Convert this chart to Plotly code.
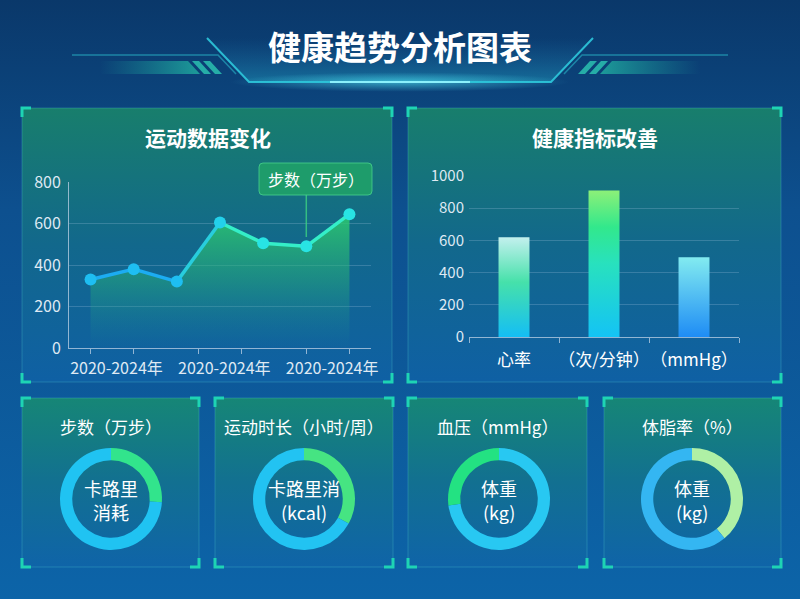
import math
import plotly.graph_objects as go

W, H = 800, 599
FONT = "Noto Sans CJK SC, Noto Sans, sans-serif"

# ---------------- data ----------------
main_title = "健康趋势分析图表"

line_title = "运动数据变化"
line_series_name = "步数（万步）"
line_values = [330, 380, 320, 605, 505, 490, 645]
line_tick_labels = ["2020-2024年", "2020-2024年", "2020-2024年"]
line_tick_pos = [0.6, 3.1, 5.6]
line_tick_marks = [0, 1, 2.5, 3.5, 5, 6]
line_highlight_index = 5
line_y_ticks = [0, 200, 400, 600, 800]

bar_title = "健康指标改善"
bar_categories = ["心率", "（次/分钟）", "（mmHg）"]
bar_values = [620, 910, 495]
bar_y_ticks = [0, 200, 400, 600, 800, 1000]

donut_titles = ["步数（万步）", "运动时长（小时/周）", "血压（mmHg）", "体脂率（%）"]
donut_center_line1 = ["卡路里", "卡路里消", "体重", "体重"]
donut_center_line2 = ["消耗", "(kcal)", "(kg)", "(kg)"]
donut_percents = [26, 33, 27, 39]

# ---------------- style ----------------
bar_gradients = [
    [[0, "rgb(20,190,245)"], [0.55, "rgb(70,225,170)"], [1, "rgb(195,240,238)"]],
    [[0, "rgb(20,195,245)"], [0.5, "rgb(40,225,190)"], [0.75, "rgb(50,232,140)"], [1, "rgb(140,240,120)"]],
    [[0, "rgb(30,140,245)"], [1, "rgb(130,235,240)"]],
]
donut_arc_colors = ["rgb(50,228,140)", "rgb(70,228,130)", "rgb(35,226,130)", "rgb(175,240,165)"]
donut_base_colors = ["rgb(32,195,242)", "rgb(34,195,242)", "rgb(40,200,242)", "rgb(52,182,242)"]
donut_arc_left = [False, False, True, False]   # arc runs from 12 o'clock to the left

top_panels = [(22, 108, 392, 382), (408, 108, 781, 382)]
bottom_panels = [(22, 398, 199, 567), (215, 398, 393, 567), (408, 398, 587, 567), (604, 398, 781, 567)]
donut_centers = [(111, 499), (304, 499), (499, 499), (692, 499)]
donut_r = 51


def Y(p):
    return H - p


def fx(x):
    return x / W


def fy(p):
    return 1 - p / H


fig = go.Figure()

# page background
fig.add_trace(go.Scatter(
    x=[0, W, W, 0, 0], y=[0, 0, H, H, 0], mode="lines", fill="toself",
    line=dict(width=0),
    fillgradient=dict(type="vertical", start=0, stop=H,
                      colorscale=[[0, "rgb(12,100,168)"], [0.65, "rgb(13,80,143)"], [1, "rgb(10,56,106)"]]),
    hoverinfo="skip", showlegend=False, xaxis="x", yaxis="y"))

# title decoration: trapezoid glow
fig.add_trace(go.Scatter(
    x=[207, 593, 551, 249, 207], y=[Y(38), Y(38), Y(82), Y(82), Y(38)], mode="lines", fill="toself",
    line=dict(width=0),
    fillgradient=dict(type="vertical", start=Y(82), stop=Y(38),
                      colorscale=[[0, "rgba(40,190,215,0.35)"], [1, "rgba(40,150,200,0.0)"]]),
    hoverinfo="skip", showlegend=False, xaxis="x", yaxis="y"))

# glow under title
ex = [400 + 170 * math.cos(t * math.pi / 30) for t in range(61)]
ey = [Y(82) + 10 * math.sin(t * math.pi / 30) for t in range(61)]
fig.add_trace(go.Scatter(
    x=ex, y=ey, mode="lines", fill="toself", line=dict(width=0),
    fillgradient=dict(type="radial", colorscale=[[0, "rgba(80,230,245,0.6)"], [1, "rgba(80,230,245,0)"]]),
    hoverinfo="skip", showlegend=False, xaxis="x", yaxis="y"))

# side bars of title decoration
for side in (-1, 1):
    def mx(x):
        return x if side == -1 else W - x
    xs = [mx(v) for v in [100, 188, 200, 100, 100]]
    ys = [Y(61), Y(61), Y(74), Y(74), Y(61)]
    cs = [[0, "rgba(30,170,160,0.0)"], [1, "rgba(35,185,165,0.75)"]]
    if side == 1:
        cs = [[0, "rgba(35,185,165,0.75)"], [1, "rgba(30,170,160,0.0)"]]
    fig.add_trace(go.Scatter(
        x=xs, y=ys, mode="lines", fill="toself", line=dict(width=0),
        fillgradient=dict(type="horizontal", start=min(xs), stop=max(xs), colorscale=cs),
        hoverinfo="skip", showlegend=False, xaxis="x", yaxis="y"))
    for a in (192, 203):
        px_ = [mx(v) for v in [a, a + 7, a + 19, a + 12, a]]
        fig.add_trace(go.Scatter(
            x=px_, y=ys, mode="lines", fill="toself", line=dict(width=0),
            fillcolor="rgba(45,200,180,0.8)", hoverinfo="skip", showlegend=False,
            xaxis="x", yaxis="y"))


# panels
def add_panel(p, top, mid, bot):
    x0, y0, x1, y1 = p
    fig.add_trace(go.Scatter(
        x=[x0, x1, x1, x0, x0], y=[Y(y0), Y(y0), Y(y1), Y(y1), Y(y0)], mode="lines", fill="toself",
        line=dict(width=1, color="rgba(80,200,205,0.30)"),
        fillgradient=dict(type="vertical", start=Y(y1), stop=Y(y0),
                          colorscale=[[0, bot], [0.5, mid], [1, top]]),
        hoverinfo="skip", showlegend=False, xaxis="x", yaxis="y"))


for p in top_panels:
    add_panel(p, "rgb(24,126,108)", "rgb(18,104,140)", "rgb(15,96,164)")
for p in bottom_panels:
    add_panel(p, "rgb(22,134,118)", "rgb(18,112,145)", "rgb(15,100,168)")

# ---------------- line chart ----------------
n = len(line_values)
xs = list(range(n))
fig.add_trace(go.Scatter(
    x=xs, y=line_values, mode="lines", fill="tozeroy", line=dict(width=0),
    fillgradient=dict(type="vertical", start=0, stop=max(line_values),
                      colorscale=[[0, "rgba(30,150,150,0.0)"], [0.5, "rgba(40,180,120,0.45)"],
                                  [1, "rgba(45,205,110,0.85)"]]),
    hoverinfo="skip", showlegend=False, xaxis="x2", yaxis="y2"))


def lerp_col(t, a, b):
    return "rgb(%d,%d,%d)" % tuple(round(a[k] + (b[k] - a[k]) * t) for k in range(3))


c_start, c_end = (28, 172, 242), (52, 238, 200)
for i in range(n - 1):
    t = min(1.0, max(0.0, ((i + 0.5) - 1.5) / 2.0))
    fig.add_trace(go.Scatter(
        x=[xs[i], xs[i + 1]], y=[line_values[i], line_values[i + 1]], mode="lines",
        line=dict(width=3.5, color=lerp_col(t, c_start, c_end)),
        hoverinfo="skip", showlegend=False, xaxis="x2", yaxis="y2"))
m_start, m_end = (30, 190, 242), (40, 228, 228)
fig.add_trace(go.Scatter(
    x=xs, y=line_values, mode="markers",
    marker=dict(size=12, color=[lerp_col(min(1, max(0, (i - 2) / 2)), m_start, m_end) for i in xs],
                line=dict(width=0)),
    hoverinfo="skip", showlegend=False, xaxis="x2", yaxis="y2"))

# ---------------- bar chart ----------------
half = 0.172
for i, v in enumerate(bar_values):
    fig.add_trace(go.Scatter(
        x=[i - half, i - half, i + half, i + half, i - half], y=[0, v, v, 0, 0],
        mode="lines", fill="toself", line=dict(width=0),
        fillgradient=dict(type="vertical", start=0, stop=v, colorscale=bar_gradients[i]),
        hoverinfo="skip", showlegend=False, xaxis="x3", yaxis="y3"))

# ---------------- donuts ----------------
for i, pct in enumerate(donut_percents):
    cx, cy = donut_centers[i]
    if donut_arc_left[i]:
        vals = [100 - pct, pct]
        cols = [donut_base_colors[i], donut_arc_colors[i]]
    else:
        vals = [pct, 100 - pct]
        cols = [donut_arc_colors[i], donut_base_colors[i]]
    fig.add_trace(go.Pie(
        values=vals, hole=0.76, sort=False, direction="clockwise", rotation=0,
        marker=dict(colors=cols, line=dict(width=0)),
        textinfo="none", hoverinfo="skip", showlegend=False,
        domain=dict(x=[fx(cx - donut_r), fx(cx + donut_r)], y=[fy(cy + donut_r), fy(cy - donut_r)])))

# ---------------- shapes ----------------
shapes = []
deco = "rgba(45,200,220,0.9)"
shapes.append(dict(type="path", xref="x", yref="y", layer="above",
                   path=f"M207,{Y(38)} L249,{Y(82)} L551,{Y(82)} L593,{Y(38)}",
                   line=dict(color=deco, width=2)))
shapes.append(dict(type="path", xref="x", yref="y", layer="above",
                   path=f"M72,{Y(55)} L218,{Y(55)} L236,{Y(74)}",
                   line=dict(color="rgba(40,180,200,0.6)", width=1.5)))
shapes.append(dict(type="path", xref="x", yref="y", layer="above",
                   path=f"M{W-72},{Y(55)} L{W-218},{Y(55)} L{W-236},{Y(74)}",
                   line=dict(color="rgba(40,180,200,0.6)", width=1.5)))
shapes.append(dict(type="line", xref="x", yref="y", layer="above",
                   x0=330, x1=470, y0=Y(82), y1=Y(82), line=dict(color="rgba(150,245,255,0.9)", width=2)))

arm = 9
bc = "rgb(30,212,180)"
for (x0, y0, x1, y1) in top_panels + bottom_panels:
    for (cx, cy, dx, dy) in [(x0, y0, 1, 1), (x1, y0, -1, 1), (x0, y1, 1, -1), (x1, y1, -1, -1)]:
        shapes.append(dict(type="path", xref="x", yref="y", layer="above",
                           path=f"M{cx},{Y(cy + dy * arm)} L{cx},{Y(cy)} L{cx + dx * arm},{Y(cy)}",
                           line=dict(color=bc, width=3)))

# tooltip pointer and box
hi = line_highlight_index
shapes.append(dict(type="line", xref="x2", yref="y2", layer="above",
                   x0=hi, x1=hi, y0=line_values[hi] + 45, y1=740,
                   line=dict(color="rgba(60,210,130,0.8)", width=1.5)))
bx0, by0, bx1, by1, rr = 259, 163, 372, 195, 4
shapes.append(dict(type="path", xref="x", yref="y", layer="above",
                   path=(f"M{bx0+rr},{Y(by0)} L{bx1-rr},{Y(by0)} Q{bx1},{Y(by0)} {bx1},{Y(by0+rr)} "
                         f"L{bx1},{Y(by1-rr)} Q{bx1},{Y(by1)} {bx1-rr},{Y(by1)} L{bx0+rr},{Y(by1)} "
                         f"Q{bx0},{Y(by1)} {bx0},{Y(by1-rr)} L{bx0},{Y(by0+rr)} Q{bx0},{Y(by0)} {bx0+rr},{Y(by0)} Z"),
                   fillcolor="rgba(32,160,105,0.92)", line=dict(color="rgba(70,210,140,0.8)", width=1)))


# ---------------- annotations ----------------
def txt(text, x, y, size, color="white"):
    return dict(text=text, x=fx(x), y=fy(y), xref="paper", yref="paper", xanchor="center", yanchor="middle",
                showarrow=False, font=dict(size=size, color=color, family=FONT))


ann = [txt(f"<b>{main_title}</b>", 400, 46, 33),
       txt(f"<b>{line_title}</b>", 208, 137, 21),
       txt(f"<b>{bar_title}</b>", 595, 137, 21),
       txt(line_series_name, (bx0 + bx1) / 2, (by0 + by1) / 2, 16)]
for i, p in enumerate(bottom_panels):
    cxp = (p[0] + p[2]) / 2
    ann.append(txt(donut_titles[i], cxp, 426, 17))
    cx, cy = donut_centers[i]
    ann.append(txt(donut_center_line1[i], cx, cy - 11, 18))
    ann.append(txt(donut_center_line2[i], cx, cy + 13, 18))

axis_line = "rgba(190,210,230,0.75)"
grid = "rgba(190,215,240,0.22)"
tickc = "#dfe9f3"

fig.update_layout(
    width=W, height=H, autosize=False, margin=dict(l=0, r=0, t=0, b=0, pad=0),
    paper_bgcolor="rgb(12,80,140)", plot_bgcolor="rgba(0,0,0,0)",
    font=dict(family=FONT, color=tickc),
    showlegend=False,
    shapes=shapes, annotations=ann,
    xaxis=dict(domain=[0, 1], range=[0, W], visible=False, fixedrange=True, automargin=False),
    yaxis=dict(domain=[0, 1], range=[0, H], visible=False, fixedrange=True, automargin=False),
    xaxis2=dict(domain=[fx(69), fx(371)], anchor="y2", range=[-0.5, n - 0.5], automargin=False,
                showgrid=False, zeroline=False, showline=True, linecolor=axis_line, linewidth=1,
                tickmode="array", tickvals=line_tick_pos, ticktext=line_tick_labels, ticks="",
                tickangle=0, ticklabelstandoff=6,
                tickfont=dict(size=16, color=tickc, family=FONT),
                minor=dict(tickmode="array", tickvals=line_tick_marks, ticks="outside", ticklen=5,
                           tickcolor=axis_line, showgrid=False)),
    yaxis2=dict(domain=[fy(348), fy(182)], anchor="x2", range=[0, 800], automargin=False,
                tickmode="array", tickvals=line_y_ticks, showgrid=True, gridcolor=grid, gridwidth=1,
                zeroline=False, showline=True, linecolor=axis_line, linewidth=1, ticks="",
                ticklabelstandoff=4,
                tickfont=dict(size=16, color=tickc, family=FONT)),
    xaxis3=dict(domain=[fx(469), fx(739)], anchor="y3", range=[-0.5, len(bar_values) - 0.5], automargin=False,
                showgrid=False, zeroline=False, showline=True, linecolor=axis_line, linewidth=1,
                tickmode="array", tickvals=list(range(len(bar_categories))), ticktext=bar_categories,
                ticks="", tickangle=0, ticklabelstandoff=8,
                tickfont=dict(size=17, color="white", family=FONT),
                minor=dict(tickmode="array", tickvals=[i - 0.5 for i in range(len(bar_values) + 1)],
                           ticks="outside", ticklen=5, tickcolor=axis_line, showgrid=False)),
    yaxis3=dict(domain=[fy(337), fy(176)], anchor="x3", range=[0, 1000], automargin=False,
                tickmode="array", tickvals=bar_y_ticks, showgrid=True, gridcolor=grid, gridwidth=1,
                zeroline=False, showline=False, ticks="", ticklabelstandoff=4,
                tickfont=dict(size=15, color=tickc, family=FONT)),
)

fig.write_html("out.html")
